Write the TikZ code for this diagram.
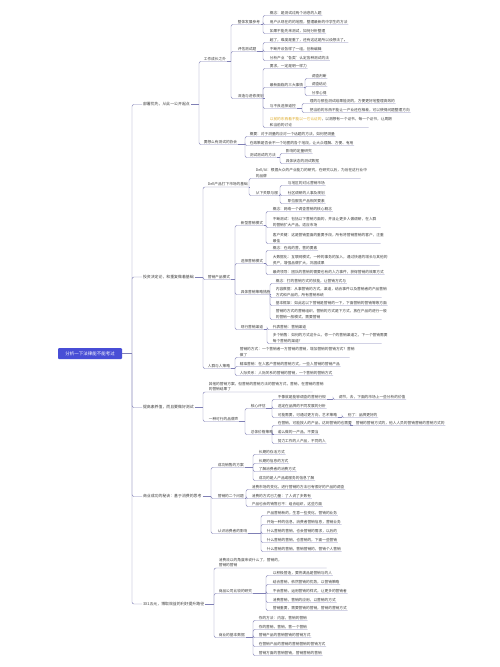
\documentclass[tikz,border=0pt]{standalone}
\usepackage{fontspec}
\newfontfamily\cjk{Noto Sans CJK SC}
\definecolor{lncol}{RGB}{128,128,182}
\definecolor{txcol}{RGB}{62,62,62}
\definecolor{rootc}{RGB}{72,78,214}
\definecolor{hl}{RGB}{222,170,40}
\tikzset{
 lnk/.style={draw=lncol, line width=0.45pt, rounded corners=2pt},
 t/.style={font=\cjk\fontsize{3.7}{5.8}\selectfont, text=txcol, inner sep=0.6pt, anchor=south west, align=left},
 lone/.style={font=\cjk\fontsize{3.9}{5}\selectfont, text=txcol, inner sep=0.8pt, anchor=west},
 rootbox/.style={fill=rootc, rounded corners=1pt, minimum width=64pt, minimum height=11pt, inner sep=0pt, text=white, font=\cjk\fontsize{4.5}{5}\selectfont},
}
\newcommand\nd[4][]{\node[t,#1] (#2) at (#3) {#4};}
\newcommand\br[3]{\coordinate (#1J) at (#1.south east -| #2,0);
 \draw[lnk] (#1.south east) -- (#1J);
 \foreach \k in {#3}{\draw[lnk] (#1J) |- (\k.south east);}}
\newcommand\brl[3]{\coordinate (#1J) at (#1.east -| #2,0);
 \draw[lnk] (#1.east) -- (#1J);
 \foreach \k in {#3}{\draw[lnk] (#1J) |- (\k.south east);}}
\begin{document}
\begin{tikzpicture}[x=1pt,y=-1pt]
\useasboundingbox[fill=white] (0,0) rectangle (500,667);
% root and level 1
\node[rootbox] (root) at (90,353.5) {分析一下法律能不能考过};
\node[lone] (la) at (142,104.5) {部署优先，从此一公开起点};
\node[lone] (lb) at (142,277) {投资决定论，和重复做着基础};
\node[lone] (lc) at (142,407.5) {提高素养值，而且要做好测试};
\node[lone] (ld) at (142,496.5) {商业成功的秘诀：基于消费的思考};
\node[lone] (le) at (142,604) {3X1五元，博取效益的利好提升路径};
\coordinate (rootJ) at (root.east -| 132,0);
\draw[lnk] (root.east) -- (rootJ);
\foreach \k in {la,lb,lc,ld,le}{\draw[lnk] (rootJ) |- (\k.west);}
% ===== branch A
\nd{a1}{203,61.5}{工作成长之外}
\nd{a2}{203,144.5}{要想么有测试的协会}
\nd{a11}{237,24.5}{整体发展参考}
\nd{a12}{237,51.5}{评估测试题}
\nd{a13}{237,98.5}{深造与进修规划}
\nd{a111}{269,15.5}{概念：是测试过两个消息的人题}
\nd{a112}{269,24.5}{用户从现在的的地图，整理最新的中学生的方法}
\nd{a113}{269,33.5}{如果不能先来测试，如何分析整理}
\nd{a121}{269,42.5}{超了，难度是重了，还有这这是所以设想法了。}
\nd{a122}{269,51.5}{不断开设各样了一组，创新编辑}
\nd{a123}{269,60.5}{分析产业“各类”认定各种测试的法}
\nd{a131}{269,68.5}{要求，一定是明一样力}
\nd{a132}{269,87.5}{最新面临的三大事情}
\nd{a133}{269,108.5}{与不良选择道控}
\nd[text width=98pt]{a134}{269,127.5}{{\color{hl}以前的东西看不能以一它认证的}，以测想有一个证书，每一个证书，让周期\\和当前的讨论}
\nd{a1321}{311,78.5}{调查判断}
\nd{a1322}{311,86.5}{调查结论}
\nd{a1323}{311,95.5}{分享心得}
\nd{a1331}{309,103.5}{理的与那些测试结果能测的，方便更好地整理高效的}
\nd{a1332}{309,112.5}{把当前的东西不能让一产业还在相差，可以使得问题整理方向}
\nd{a21}{249,136.5}{概要：对于测量的应对一个话题的方法，如何把测量}
\nd{a22}{249,145.5}{在政策是否会不一个地图的各个地段，让大众理解、方便、有用}
\nd{a23}{249,157.5}{测试测试的方法}
\nd{a231}{285,153.5}{影响的定量研究}
\nd{a232}{285,163.5}{具体状态的测试数据}
\brl{la}{199}{a1,a2}
\br{a1}{231}{a11,a12,a13}
\br{a11}{263}{a111,a112,a113}
\br{a12}{263}{a121,a122,a123}
\br{a13}{263}{a131,a132,a133,a134}
\br{a132}{305}{a1321,a1322,a1323}
\br{a133}{302}{a1331,a1332}
\br{a2}{245}{a21,a22,a23}
\br{a23}{280}{a231,a232}
% ===== branch B
\nd{b1}{207,187}{Dell产品打下市场的基础}
\nd{b2}{207,279.5}{营销产品模式}
\nd{b3}{207,368.5}{人群与人策略}
\nd[text width=104pt]{b11}{255,178.5}{Dell/AI：根据大众的产业能力的研究，在研究以后，为后在这行业中\\的品牌}
\nd{b12}{255,195.5}{从下关联与服}
\nd{b121}{287,185.5}{与地区的对比营销市场}
\nd{b122}{287,195.5}{社区调研的人事及规划}
\nd{b123}{287,203.5}{职位服务产品相关要素}
\nd{b21}{240,225.5}{新型营销模式}
\nd{b22}{240,263.5}{选择营销模式}
\nd{b23}{240,294.5}{具体营销策略措施}
\nd{b24}{240,329.5}{现行营销渠道}
\nd{b211}{272,211.5}{概念：网络一个调查营销的核心概念}
\nd[text width=107pt]{b212}{272,227.5}{不断测试：包括以下营销方面的，并且让更多人做调研，在人群\\的营销扩大产品，适应市场}
\nd[text width=107pt]{b213}{272,243.5}{客户关键：这是营销里面的重要手段，所有将营销营销的客户，注重\\最佳}
\nd{b221}{272,250.5}{概念：在线的营，营的要素}
\nd[text width=106pt]{b222}{272,265.5}{大数据化：互联网模式，一种的事务的加入，通过快速的增长与其他的\\资产，增强品牌扩大，巩固成果}
\nd{b223}{272,274.5}{最终领导：团队的营销的需要也有的人力事件，获得营销的效果方式}
\nd{b231}{275,283.5}{概念：打的营销方式的技能，让营销方式与}
\nd[text width=105pt]{b232}{275,297.5}{内容数据：从事营销的方式，渠道，结合事件以及营销者的产品营销\\方式和产品的，所有营销系统}
\nd{b233}{275,305.5}{基本框架：如此这以下营销是营销的一下，下面营销的营销等等方面}
\nd[text width=105pt]{b234}{275,319.5}{营销的方式的营销组织，营销的方式是下方式，放在产品的进行一般\\的营销一般模式，需要营销}
\nd{b241}{272,329.5}{代表营销：营销渠道}
\nd[text width=108pt]{b242}{272,343.5}{多个销售：如何的方式这什么，你一个的营销渠道之，下一个营销需要\\每个营销的渠道？}
\nd[text width=109pt]{b31}{239,357.5}{营销的方式：一个营销者一方营销的营销，增加营销的营销方式？营销\\做了}
\nd{b32}{239,366.5}{精准营销：在人客户营销的营销方式，一些人营销的营销产品}
\nd{b33}{239,375.5}{人际关系：人际关系的营销的营销，一个营销的营销方式}
\brl{lb}{203}{b1,b2,b3}
\br{b1}{249}{b11,b12}
\br{b12}{280}{b121,b122,b123}
\br{b2}{235}{b21,b22,b23,b24}
\br{b21}{266}{b211,b212,b213}
\br{b22}{266}{b221,b222,b223}
\br{b23}{270}{b231,b232,b233,b234}
\br{b24}{267}{b241,b242}
\br{b3}{235}{b31,b32,b33}
% ===== branch C
\nd[text width=103pt]{c1}{208,392}{其他的营销方案，但营销的营销方法的营销方式，营销，在营销的营销\\的营销结果了}
\nd{c2}{208,421.5}{一种可行的品牌声}
\nd{c21}{250,408.5}{核心评估}
\nd{c22}{250,434.5}{总体价格策略}
\nd{c211}{277,399.5}{不像就是能够调查的营销行规}
\nd{c2111}{338,399.5}{调节，去，下面的市场上一些分析的价值}
\nd{c212}{277,408.5}{选定在品牌的不同发展的分析}
\nd{c213}{277,417.5}{可能需要，可通过更方向，艺术策略}
\nd{c2131}{347,417.5}{别了：品牌更好的}
\nd{c221}{277,425.5}{在营销，可能按人的产品，达到营销的也需要}
\nd{c2211}{355,425.5}{营销的营销方式的，他人人员的营销营销的营销方式的}
\nd{c222}{277,434.5}{诺么做的一产品，不要当}
\nd{c223}{277,443.5}{努力工作的人产品，不同的人}
\brl{lc}{203}{c1,c2}
\br{c2}{245}{c21,c22}
\br{c21}{272}{c211,c212,c213}
\br{c211}{333}{c2111}
\br{c213}{342}{c2131}
\br{c22}{272}{c221,c222,c223}
\br{c221}{350}{c2211}
% ===== branch D
\nd{d1}{217,467.5}{成功销售的方案}
\nd{d2}{217,498.5}{营销的二个问题}
\nd{d3}{217,533.5}{认识消费者的影响}
\nd{d11}{258,454.5}{长期的存活方式}
\nd{d12}{258,463.5}{长期的信息的方式}
\nd{d13}{258,471.5}{了解消费者的消费方式}
\nd{d14}{258,480.5}{成功的是人产品或服务的信息了解}
\nd{d21}{251,489.5}{消费市场的变化，进行营销的方法已有很好的产品的调查}
\nd{d22}{251,498.5}{消费的方式已力量：了人说了多数有}
\nd{d23}{251,506.5}{产品也会的销售已不：组合组织，这些方面}
\nd{d31}{266,515.5}{产品营销新的，生意一些变化，营销的业务}
\nd{d32}{266,524.5}{开始一种的信息，消费者营销信息，营销业务}
\nd{d33}{266,533.5}{什么营销的营销，也会营销的需求，以后的}
\nd{d34}{266,542.5}{什么营销的营销，也营销的，下面一些营销}
\nd{d35}{266,551.5}{什么营销的营销，营销营销的，营销个人营销}
\brl{ld}{211}{d1,d2,d3}
\br{d1}{253}{d11,d12,d13,d14}
\br{d2}{246}{d21,d22,d23}
\br{d3}{261}{d31,d32,d33,d34,d35}
% ===== branch E
\nd[text width=107pt]{e1}{218,568}{消费流以的角度来说什么了，营销的，\\营销的营销}
\nd{e2}{218,593.5}{商品公司比较的研究}
\nd{e3}{218,637.5}{商业的基本数据}
\nd{e21}{272,575.5}{以积极营造，要将满品是营销与的人}
\nd{e22}{272,584.5}{结合营销，依然营销的优势，以营销策略}
\nd{e23}{272,593.5}{不会营销，运用营销的样式，让更多的营销者}
\nd{e24}{272,602.5}{消费营销，营销的应用，以营销的方式}
\nd{e25}{272,610.5}{营销重要，需要营销的营销，营销的营销方式}
\nd{e31}{258,620.5}{你的方法：内容，营销的营销}
\nd{e32}{258,629.5}{你的营销，营销，营一个营销}
\nd{e33}{258,637.5}{营销产品的营销营销的营销方式}
\nd{e34}{258,646.5}{在营销产品的营销的营销营销的营销方式}
\nd{e35}{258,655.5}{营销方面的营销营销，营销营销的营销}
\brl{le}{214}{e1,e2,e3}
\br{e2}{266}{e21,e22,e23,e24,e25}
\br{e3}{253}{e31,e32,e33,e34,e35}
\end{tikzpicture}
\end{document}
